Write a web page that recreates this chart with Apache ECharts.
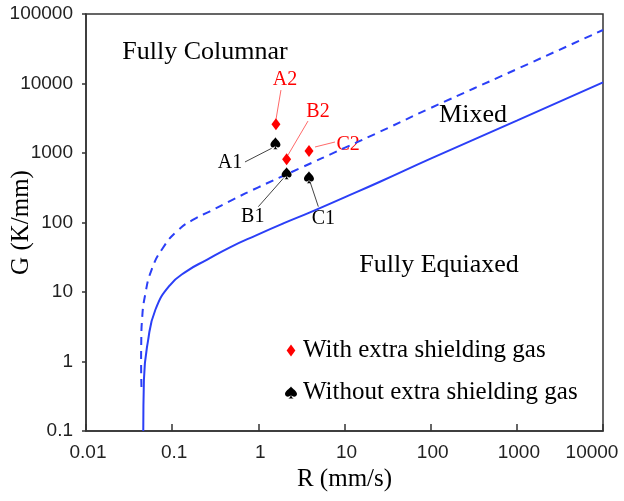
<!DOCTYPE html>
<html>
<head>
<meta charset="utf-8">
<script src="https://cdn.jsdelivr.net/npm/echarts@6/dist/echarts.min.js"></script>
<style>
  html, body { margin: 0; padding: 0; background: #fff; }
  #chart { width: 624px; height: 501px; }
</style>
</head>
<body>
<div id="chart"></div>
<script>
// Boundary between fully columnar and mixed growth (dashed), R in mm/s, G in K/mm
const columnarR = [0.0440, 0.0436, 0.0438, 0.0447, 0.0485, 0.0578, 0.0770, 0.115, 0.18, 0.275, 0.5, 1, 3, 10, 25.8, 100, 1000, 10000];
const columnarG = [0.43, 1, 2, 4, 9, 21, 42, 76, 112, 145, 212, 321, 599, 1183, 2025, 4440, 16100, 58900];

// Boundary between mixed and fully equiaxed growth (solid)
const equiaxedR = [0.0462, 0.0470, 0.0525, 0.064, 0.094, 0.148, 0.252, 0.469, 0.957, 1.95, 3.98, 10, 25.8, 100, 1000, 10000];
const equiaxedG = [0.1, 0.54, 2.0, 5.6, 12.5, 20, 29, 44, 66, 97, 140, 230, 386, 830, 2920, 10400];

// Measured weld conditions
const withGasNames = ['A2', 'B2', 'C2'];
const withGasR = [1.60, 2.13, 3.87];
const withGasG = [2590, 812, 1070];

const withoutGasNames = ['A1', 'B1', 'C1'];
const withoutGasR = [1.58, 2.13, 3.87];
const withoutGasG = [1380, 511, 447];

// Axis tick labels
const xTickLabels = ['0.01', '0.1', '1', '10', '100', '1000', '10000'];
const yTickLabels = ['0.1', '1', '10', '100', '1000', '10000', '100000'];

// Region names
const regionNames = ['Fully Columnar', 'Mixed', 'Fully Equiaxed'];

const seriesNames = ['With extra shielding gas', 'Without extra shielding gas'];

// ---- presentation ----
const SERIF = 'Liberation Serif, Times New Roman, serif';
const SANS = 'Liberation Sans, Arial, sans-serif';
const BLUE = '#2b3ff7';
const RED = '#ff0000';

const diamondPath = 'path://M4,0L8,5.5L4,11L0,5.5Z';
const spadePath = 'path://M50,0C36,20 0,38 0,62C0,80 20,89 36,82C42,79 46,74 47,70C46,84 39,94 27,100L73,100C61,94 54,84 53,70C54,74 58,79 64,82C80,89 100,80 100,62C100,38 64,20 50,0Z';

// where the region names sit (data coordinates)
const regionAnchors = [[0.24, 28400], [310, 3520], [125, 24.4]];

// annotation text anchors and leader lines (data coordinates)
const noteAnchors = {
  A2: [2.04, 11200], B2: [4.92, 3890], C2: [11.0, 1300],
  A1: [0.469, 718], B1: [0.861, 121], C1: [5.68, 115]
};
const leaderLines = {
  A2: [[1.60, 2990], [1.83, 8050]],
  B2: [[2.21, 935], [3.77, 2880]],
  C2: [[4.55, 1220], [7.76, 1440]],
  A1: [[0.700, 743], [1.43, 1170]],
  B1: [[1.0, 169], [1.95, 432]],
  C1: [[4.97, 169], [3.98, 386]]
};

const zip = (xs, ys) => xs.map((x, i) => [x, ys[i]]);

const noteData = [];
withGasNames.forEach(n => noteData.push({ value: noteAnchors[n], name: n, label: { color: RED } }));
withoutGasNames.forEach(n => noteData.push({ value: noteAnchors[n], name: n, label: { color: '#000' } }));

const leaderData = [];
withGasNames.forEach(n => leaderData.push({ coords: leaderLines[n], lineStyle: { color: '#ff6a6a', width: 1, opacity: 1 } }));
withoutGasNames.forEach(n => leaderData.push({ coords: leaderLines[n], lineStyle: { color: '#444', width: 1, opacity: 1 } }));

// x tick labels sit a little right of their ticks; the last one is pulled inward
const xLabelFormatter = v => {
  const i = Math.round(Math.log10(v)) + 2;
  return i === xTickLabels.length - 1 ? '{last|' + xTickLabels[i] + '}' : '{mid|' + xTickLabels[i] + '}';
};

const chart = echarts.init(document.getElementById('chart'), null, { renderer: 'canvas' });

chart.setOption({
  animation: false,
  backgroundColor: '#fff',
  grid: {
    left: 86, right: 21, top: 14, bottom: 70,
    containLabel: false,
    outerBoundsMode: 'none',
    show: true, borderColor: '#333', borderWidth: 1.5, backgroundColor: 'transparent'
  },
  legend: {
    orient: 'vertical',
    left: 280, top: 333,
    itemGap: 17,
    itemWidth: 14, itemHeight: 12,
    symbolKeepAspect: true,
    textStyle: { fontFamily: SERIF, fontSize: 25, color: '#000' },
    data: [
      { name: seriesNames[0], icon: diamondPath, itemStyle: { color: RED, opacity: 1 } },
      { name: seriesNames[1], icon: spadePath, itemStyle: { color: '#000', opacity: 1 } }
    ],
    selectedMode: false
  },
  xAxis: {
    type: 'log', logBase: 10, min: 0.01, max: 10000,
    name: 'R (mm/s)', nameLocation: 'middle', nameGap: 36,
    nameMoveOverlap: false,
    nameTextStyle: { fontFamily: SERIF, fontSize: 25, color: '#000' },
    axisLine: { show: true, lineStyle: { color: '#333', width: 1.5 } },
    axisTick: { show: true, inside: true, length: 7, lineStyle: { color: '#333', width: 1.5 } },
    axisLabel: {
      fontFamily: SANS, fontSize: 19, color: '#222', margin: 12,
      hideOverlap: false,
      formatter: xLabelFormatter,
      rich: {
        mid: { fontFamily: SANS, fontSize: 19, color: '#222', padding: [0, 0, 0, 4] },
        last: { fontFamily: SANS, fontSize: 19, color: '#222', padding: [0, 22, 0, 0] }
      }
    },
    splitLine: { show: false },
    minorTick: { show: false }
  },
  yAxis: {
    type: 'log', logBase: 10, min: 0.1, max: 100000,
    name: 'G (K/mm)', nameLocation: 'middle', nameGap: 52, nameRotate: 90,
    nameMoveOverlap: false,
    nameTextStyle: { fontFamily: SERIF, fontSize: 25, color: '#000' },
    axisLine: { show: true, lineStyle: { color: '#333', width: 1.5 } },
    axisTick: { show: true, inside: false, length: 4, lineStyle: { color: '#333', width: 1.5 } },
    axisLabel: {
      fontFamily: SANS, fontSize: 19, color: '#222', margin: 13,
      formatter: v => yTickLabels[Math.round(Math.log10(v)) + 1]
    },
    splitLine: { show: false }
  },
  series: [
    {
      name: 'columnar-mixed',
      type: 'line',
      data: zip(columnarR, columnarG),
      showSymbol: false,
      smooth: 0.5,
      lineStyle: { color: BLUE, width: 2, type: [8, 6] },
      silent: true
    },
    {
      name: 'mixed-equiaxed',
      type: 'line',
      data: zip(equiaxedR, equiaxedG),
      showSymbol: false,
      smooth: 0.5,
      lineStyle: { color: BLUE, width: 2 },
      silent: true
    },
    {
      name: 'leaders',
      type: 'lines',
      coordinateSystem: 'cartesian2d',
      data: leaderData,
      silent: true,
      z: 3
    },
    {
      name: seriesNames[0],
      type: 'scatter',
      data: zip(withGasR, withGasG),
      symbol: diamondPath,
      symbolSize: [9, 12],
      itemStyle: { color: RED, opacity: 1 },
      z: 5
    },
    {
      name: seriesNames[1],
      type: 'scatter',
      data: zip(withoutGasR, withoutGasG),
      symbol: spadePath,
      symbolSize: [10, 12],
      itemStyle: { color: '#000', opacity: 1 },
      z: 5
    },
    {
      name: 'notes',
      type: 'scatter',
      data: noteData,
      symbolSize: 0,
      silent: true,
      itemStyle: { opacity: 1 },
      label: {
        show: true, position: 'inside',
        formatter: p => p.name,
        fontFamily: SERIF, fontSize: 20
      }
    },
    {
      name: 'regions',
      type: 'scatter',
      data: regionAnchors.map((v, i) => ({ value: v, name: regionNames[i] })),
      symbolSize: 0,
      silent: true,
      itemStyle: { opacity: 1 },
      label: {
        show: true, position: 'inside',
        formatter: p => p.name,
        fontFamily: SERIF, fontSize: 26, color: '#000'
      }
    }
  ]
});
</script>
</body>
</html>
